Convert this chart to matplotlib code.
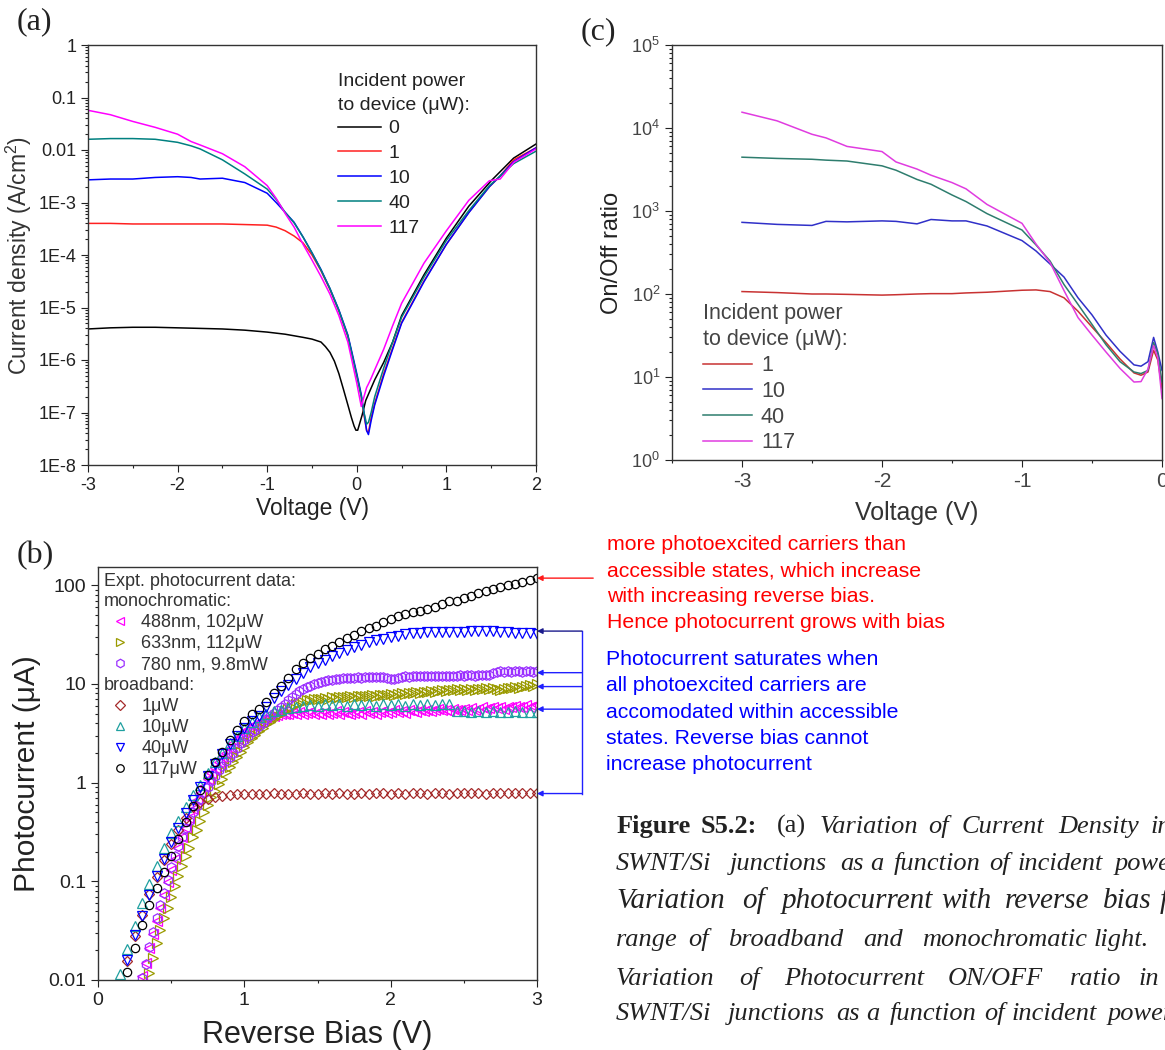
import numpy as np
import matplotlib
matplotlib.use("Agg")
import matplotlib.pyplot as plt
from matplotlib.lines import Line2D
from matplotlib.ticker import FixedLocator, LogLocator, MultipleLocator, NullFormatter

plt.rcParams["font.family"] = ["Liberation Sans", "DejaVu Sans"]
plt.rcParams["mathtext.fontset"] = "custom"
plt.rcParams["mathtext.rm"] = "Liberation Sans"
plt.rcParams["mathtext.it"] = "Liberation Sans:italic"
plt.rcParams["axes.unicode_minus"] = False

# ---------------- panel (a): current density vs voltage ----------------
A_V0 = [-3.0, -2.75, -2.5, -2.25, -2.0, -1.75, -1.5, -1.25, -1.0, -0.8, -0.6, -0.5,
        -0.4, -0.35, -0.3, -0.25, -0.2, -0.15, -0.1, -0.06, -0.03, -0.01, 0.01, 0.03,
        0.06, 0.1, 0.2, 0.3, 0.4, 0.5, 0.75, 1.0, 1.25, 1.5, 1.75, 2.0]
A_J0 = [3.9e-6, 4.1e-6, 4.2e-6, 4.2e-6, 4.1e-6, 4.0e-6, 3.9e-6, 3.7e-6, 3.4e-6, 3.1e-6,
        2.7e-6, 2.5e-6, 2.2e-6, 1.8e-6, 1.4e-6, 9.5e-7, 5.5e-7, 2.8e-7, 1.4e-7, 8e-8,
        5.5e-8, 4.6e-8, 4.6e-8, 6e-8, 9e-8, 1.7e-7, 4.2e-7, 9e-7, 2.2e-6, 7e-6, 4.2e-5,
        2.1e-4, 8.5e-4, 2.6e-3, 7.0e-3, 1.3e-2]

A_V = [-3.0, -2.75, -2.5, -2.25, -2.0, -1.85, -1.75, -1.5, -1.25, -1.0, -0.9, -0.8,
       -0.7, -0.6, -0.5, -0.4, -0.3, -0.2, -0.1, -0.05, 0.0, 0.05, 0.08, 0.11, 0.13,
       0.16, 0.2, 0.3, 0.4, 0.5, 0.75, 1.0, 1.25, 1.48, 1.6, 1.75, 2.0]
A_J1 = [4.0e-4, 4.0e-4, 3.9e-4, 3.9e-4, 3.9e-4, 3.9e-4, 3.9e-4, 3.9e-4, 3.8e-4, 3.7e-4,
        3.4e-4, 2.9e-4, 2.3e-4, 1.7e-4, 1.0e-4, 5e-5, 2.2e-5, 8.5e-6, 2.8e-6, 1.2e-6,
        5e-7, 2e-7, 9e-8, 4.5e-8, 4.2e-8, 8e-8, 1.5e-7, 5.5e-7, 1.7e-6, 5.2e-6, 3.2e-5,
        1.6e-4, 6.5e-4, 2.0e-3, 3.2e-3, 6.5e-3, 1.1e-2]
A_J10 = [2.7e-3, 2.8e-3, 2.8e-3, 3.0e-3, 3.1e-3, 3.0e-3, 2.8e-3, 2.9e-3, 2.4e-3, 1.5e-3,
         1.0e-3, 6.5e-4, 4.2e-4, 2.2e-4, 1.1e-4, 5.3e-5, 2.3e-5, 9e-6, 3e-6, 1.3e-6,
         5.5e-7, 2.2e-7, 1e-7, 4.5e-8, 3.8e-8, 7e-8, 1.4e-7, 5e-7, 1.6e-6, 5e-6, 3.1e-5,
         1.6e-4, 6.4e-4, 2.0e-3, 3.2e-3, 6.0e-3, 1.1e-2]
A_J40 = [1.6e-2, 1.65e-2, 1.65e-2, 1.6e-2, 1.4e-2, 1.2e-2, 1.05e-2, 6.5e-3, 3.5e-3, 1.8e-3,
         1.15e-3, 6.5e-4, 4.1e-4, 2.2e-4, 1.1e-4, 5.2e-5, 2.3e-5, 8.8e-6, 2.9e-6, 1.2e-6,
         5e-7, 2e-7, 1e-7, 6e-8, 6.5e-8, 1e-7, 2e-7, 7e-7, 2.2e-6, 6.5e-6, 3.8e-5,
         1.9e-4, 7e-4, 2.1e-3, 3.2e-3, 5.5e-3, 9.5e-3]
A_J117 = [5.7e-2, 4.7e-2, 3.5e-2, 2.7e-2, 2.0e-2, 1.45e-2, 1.25e-2, 8.5e-3, 4.8e-3, 2.1e-3,
          1.2e-3, 6.2e-4, 3.4e-4, 1.6e-4, 8e-5, 3.9e-5, 1.8e-5, 7e-6, 2.2e-6, 9e-7,
          3.6e-7, 1.3e-7, 2e-7, 3e-7, 3.5e-7, 4.5e-7, 6.5e-7, 1.6e-6, 4.5e-6, 1.2e-5, 7e-5,
          2.9e-4, 1.1e-3, 2.6e-3, 2.8e-3, 5.8e-3, 1.05e-2]

A_YTICKS = [1e-8, 1e-7, 1e-6, 1e-5, 1e-4, 1e-3, 1e-2, 1e-1, 1]
A_YLABELS = ["1E-8", "1E-7", "1E-6", "1E-5", "1E-4", "1E-3", "0.01", "0.1", "1"]

# ---------------- panel (c): on/off ratio ----------------
C_V = [-3.0, -2.75, -2.5, -2.4, -2.25, -2.0, -1.9, -1.75, -1.65, -1.5, -1.4, -1.25,
       -1.0, -0.9, -0.8, -0.7, -0.6, -0.5, -0.4, -0.3, -0.2, -0.15, -0.1, -0.06, -0.03, 0.0]
C_R1 = [107, 104, 100, 100, 99, 97, 98, 100, 101, 101, 103, 105, 111, 112, 107, 90,
        62, 40, 26, 16.5, 11.2, 10.5, 11.5, 21, 16, 7.2]
C_R10 = [730, 690, 670, 750, 740, 760, 750, 700, 790, 760, 760, 660, 440, 330, 230, 160,
         90, 56, 32, 20.4, 14, 13.5, 15.3, 30, 20, 12]
C_R40 = [4450, 4300, 4200, 4100, 4000, 3500, 3100, 2400, 2100, 1560, 1300, 930, 590, 390,
         250, 130, 75, 43, 24.5, 15.3, 11.5, 11, 12, 26, 19, 8.7]
C_R117 = [15500, 12200, 8400, 7600, 6000, 5200, 3900, 3200, 2700, 2200, 1850, 1200, 710,
          400, 240, 110, 52, 32, 20, 12.7, 8.7, 8.8, 12.5, 24, 17, 5.5]

# ---------------- panel (b): photocurrent vs reverse bias ----------------
# broadband series, 0.05 V steps
B_117_START = 0.20
B_117 = [0.012, 0.021, 0.036, 0.057, 0.085, 0.125, 0.18, 0.27, 0.40, 0.58, 0.85, 1.2,
         1.6, 2.05, 2.7, 3.4, 4.2, 4.9, 5.6, 6.5, 8.0, 9.6, 11.5, 14.0, 16.4, 18.5, 20.2,
         22.4, 24.2, 26.7, 28.9, 31.3, 34.3, 37.0, 38.5, 42.0, 45.0, 48.6, 51, 53, 55, 57,
         60, 64, 69, 70, 74, 78, 83, 87, 91, 96, 100, 104, 108, 113, 118]
B_40_START = 0.20
B_40 = [0.016, 0.0285, 0.045, 0.073, 0.112, 0.17, 0.25, 0.35, 0.49, 0.67, 0.90, 1.17,
        1.55, 1.95, 2.45, 3.0, 3.6, 4.2, 4.7, 5.8, 7.2, 8.5, 9.8, 11.2, 12.8, 14.8, 16.3,
        17.6, 19.0, 20.5, 22.0, 23.5, 24.8, 26.3, 27.6, 28.7, 29.8, 30.8, 31.7, 32.6, 33.0,
        33.3, 33.5, 33.2, 33.6, 33.8, 33.5, 34.0, 34.6, 34.3, 34.0, 33.6, 33.2, 33.0, 32.8,
        32.5, 32.3]
B_10_START = 0.15
B_10 = [0.0115, 0.0205, 0.035, 0.060, 0.094, 0.144, 0.215, 0.31, 0.41, 0.57, 0.75, 0.95,
        1.25, 1.6, 2.0, 2.5, 3.0, 3.6, 4.1, 4.6, 5.0, 5.3, 5.5, 5.7, 5.9, 6.0, 6.1, 6.0,
        6.2, 6.1, 6.2, 6.0, 6.2, 6.1, 6.2, 6.0, 6.2, 6.1, 6.2, 6.0, 6.2, 6.1, 6.2, 6.1,
        6.2, 6.2, 5.3, 5.3, 5.2, 5.3, 5.2, 5.3, 5.2, 5.2, 5.3, 5.2, 5.2, 5.2]
B_1_START = 0.20
B_1 = [0.0155, 0.028, 0.046, 0.074, 0.11, 0.165, 0.24, 0.33, 0.44, 0.56, 0.64, 0.69,
       0.71, 0.73, 0.75, 0.76, 0.76, 0.77, 0.76, 0.77, 0.78, 0.77, 0.76, 0.77, 0.78, 0.77,
       0.76, 0.78, 0.77, 0.78, 0.77, 0.76, 0.78, 0.77, 0.78, 0.79, 0.77, 0.78, 0.77, 0.79,
       0.78, 0.77, 0.79, 0.78, 0.77, 0.79, 0.78, 0.79, 0.78, 0.77, 0.79, 0.78, 0.79, 0.78,
       0.79, 0.78, 0.78]

# monochromatic series, 0.025 V steps
B_780_START = 0.30
B_780 = [0.0105, 0.0145, 0.0215, 0.031, 0.042, 0.057, 0.077, 0.103, 0.14, 0.18, 0.226,
         0.28, 0.35, 0.41, 0.50, 0.58, 0.68, 0.79, 0.90, 1.04, 1.17, 1.33, 1.46, 1.64, 1.83,
         2.0, 2.25, 2.5, 2.72, 2.97, 3.24, 3.45, 3.72, 4.05, 4.38, 4.72, 5.05, 5.4, 5.8,
         6.3, 6.9, 7.4, 7.9, 8.4, 8.8, 9.2, 9.5, 9.9, 10.2, 10.5, 10.7, 10.9, 11.0, 11.2,
         11.3, 11.4, 11.5, 11.6, 11.6, 11.7, 11.6, 11.7, 11.8, 11.7, 11.8, 11.8, 11.7, 11.5,
         11.3, 11.3, 11.6, 11.8, 11.9, 11.8, 11.9, 12.0, 11.9, 12.0, 12.0, 11.9, 12.0, 12.1,
         12.0, 12.1, 12.1, 12.0, 12.1, 12.2, 12.1, 12.2, 12.2, 12.1, 12.3, 12.4, 12.3, 12.2,
         12.9, 13.3, 13.4, 13.3, 13.4, 13.3, 13.5, 13.4, 13.3, 13.4, 13.5, 13.3, 13.4]
B_633_START = 0.35
B_633 = [0.0118, 0.0168, 0.0235, 0.032, 0.042, 0.054, 0.070, 0.090, 0.113, 0.143, 0.18,
         0.22, 0.28, 0.33, 0.41, 0.50, 0.59, 0.71, 0.82, 0.96, 1.10, 1.28, 1.45, 1.63, 1.83,
         2.05, 2.3, 2.55, 2.8, 3.05, 3.3, 3.6, 3.9, 4.15, 4.4, 4.7, 5.0, 5.3, 5.6, 5.9, 6.2,
         6.4, 6.6, 6.8, 6.9, 7.0, 7.1, 7.0, 7.2, 7.1, 7.3, 7.2, 7.3, 7.4, 7.3, 7.5, 7.4,
         7.6, 7.5, 7.6, 7.5, 7.7, 7.6, 7.7, 7.8, 7.7, 7.9, 7.8, 7.9, 8.0, 7.9, 8.1, 8.0,
         8.2, 8.1, 8.3, 8.2, 8.4, 8.3, 8.5, 8.6, 8.5, 8.7, 8.6, 8.8, 8.7, 8.8, 8.6, 8.8,
         8.7, 8.9, 8.8, 9.0, 8.8, 9.0, 8.9, 8.7, 8.9, 9.1, 9.0, 9.2, 9.1, 9.3, 9.5, 9.7,
         9.6, 9.9]
B_488_START = 0.30
B_488 = [0.011, 0.015, 0.021, 0.029, 0.040, 0.054, 0.073, 0.098, 0.13, 0.17, 0.22, 0.28,
         0.35, 0.44, 0.54, 0.66, 0.79, 0.93, 1.08, 1.25, 1.42, 1.6, 1.8, 2.0, 2.25, 2.5,
         2.75, 3.0, 3.25, 3.5, 3.75, 3.95, 4.15, 4.35, 4.5, 4.65, 4.75, 4.85, 4.9, 5.0, 4.9,
         5.1, 5.0, 5.2, 4.9, 5.1, 5.2, 5.0, 5.1, 4.9, 5.2, 5.0, 5.1, 5.3, 5.0, 5.2, 5.1,
         4.9, 5.1, 5.2, 5.0, 5.3, 5.1, 5.2, 5.0, 5.2, 5.3, 5.1, 5.2, 5.4, 5.2, 5.3, 5.1,
         5.4, 5.3, 5.2, 5.4, 5.3, 5.5, 5.3, 5.4, 5.6, 5.4, 5.5, 5.3, 5.6, 5.5, 5.4, 5.6,
         5.5, 5.7, 5.5, 5.6, 5.8, 5.6, 5.7, 5.9, 5.7, 5.8, 5.6, 5.9, 5.8, 6.0, 5.8, 5.9,
         6.1, 5.9, 6.0, 6.1]

# levels the side arrows point at, and the grown-with-bias level
SAT_LEVELS = [34.3, 13.0, 9.4, 5.55, 0.775]
GROW_LEVEL = 118

B_YTICKS = [0.01, 0.1, 1, 10, 100]
B_YLABELS = ["0.01", "0.1", "1", "10", "100"]

W, H = 1165, 1050


def box(left, top, right, bottom):
    return [left / W, 1 - bottom / H, (right - left) / W, (bottom - top) / H]


def style_log_axis(ax, labelsize, color="#222222"):
    ax.yaxis.set_minor_locator(LogLocator(base=10, subs=np.arange(2, 10), numticks=100))
    ax.yaxis.set_minor_formatter(NullFormatter())
    ax.tick_params(which="both", direction="out", width=0.8, labelsize=labelsize,
                   colors="#222222", labelcolor=color)
    ax.tick_params(which="major", length=5)
    ax.tick_params(which="minor", length=2.5)
    for s in ax.spines.values():
        s.set_linewidth(1.0)
        s.set_color("#333333")


def power_legend(ax, anchor, loc, size, hlen, spacing, title_ls, color):
    leg = ax.legend(title="Incident power\nto device (\u03bcW):", loc=loc,
                    bbox_to_anchor=anchor, frameon=False, fontsize=size,
                    title_fontsize=size, handlelength=hlen, handletextpad=0.4,
                    labelspacing=spacing, borderpad=0, borderaxespad=0,
                    alignment="left", labelcolor=color)
    leg.get_title().set_color(color)
    leg.get_title().set_linespacing(title_ls)
    leg._legend_box.sep = 4
    return leg


fig = plt.figure(figsize=(W / 100, H / 100), dpi=100)

# ======================= (a) =======================
ax_a = fig.add_axes(box(88, 45, 536, 465))
ax_a.set_yscale("log")
ax_a.plot(A_V0, A_J0, color="black", lw=1.1, label="0")
ax_a.plot(A_V, A_J1, color="#ff2020", lw=1.1, label="1")
ax_a.plot(A_V, A_J10, color="#0000ff", lw=1.1, label="10")
ax_a.plot(A_V, A_J40, color="#008080", lw=1.1, label="40")
ax_a.plot(A_V, A_J117, color="#ff00ff", lw=1.1, label="117")
ax_a.set_xlim(-3, 2)
ax_a.set_ylim(1e-8, 1)
ax_a.yaxis.set_major_locator(FixedLocator(A_YTICKS))
ax_a.set_yticklabels(A_YLABELS)
ax_a.xaxis.set_major_locator(MultipleLocator(1))
ax_a.xaxis.set_minor_locator(MultipleLocator(0.5))
style_log_axis(ax_a, 13)
ax_a.set_xlabel("Voltage (V)", fontsize=16.5, color="#222222", labelpad=2)
ax_a.set_ylabel("Current density (A/cm$^2$)", fontsize=16.5, color="#333333", labelpad=3)
power_legend(ax_a, (0.558, 0.933), "upper left", 14, 2.2, 0.37, 1.55, "#222222")

# ======================= (c) =======================
ax_c = fig.add_axes(box(672, 45, 1162, 460))
ax_c.set_yscale("log")
ax_c.plot(C_V, C_R1, color="#c83232", lw=1.1, label="1")
ax_c.plot(C_V, C_R10, color="#3030c8", lw=1.1, label="10")
ax_c.plot(C_V, C_R40, color="#2e7d6e", lw=1.1, label="40")
ax_c.plot(C_V, C_R117, color="#e03ce0", lw=1.1, label="117")
ax_c.set_xlim(-3.5, 0)
ax_c.set_ylim(1, 1e5)
ax_c.yaxis.set_major_locator(FixedLocator([1, 10, 100, 1e3, 1e4, 1e5]))
ax_c.set_yticklabels(["$10^{0}$", "$10^{1}$", "$10^{2}$", "$10^{3}$", "$10^{4}$", "$10^{5}$"])
ax_c.xaxis.set_major_locator(MultipleLocator(1))
ax_c.xaxis.set_minor_locator(MultipleLocator(0.5))
style_log_axis(ax_c, 13, color="#444444")
ax_c.tick_params(axis="x", labelsize=15)
ax_c.set_xlabel("Voltage (V)", fontsize=18, color="#333333", labelpad=7)
ax_c.set_ylabel("On/Off ratio", fontsize=17, color="#222222", labelpad=6)
power_legend(ax_c, (0.063, 0.016), "lower left", 15.5, 2.3, 0.22, 1.3, "#444444")

# ======================= (b) =======================
ax_b = fig.add_axes(box(98, 567, 537, 980))
ax_b.set_yscale("log")


def bias(start, step, values):
    return start + step * np.arange(len(values))


series_b = [
    (bias(B_488_START, 0.025, B_488), B_488, "<", "#ff00ff", 6.5, "488nm, 102\u03bcW"),
    (bias(B_633_START, 0.025, B_633), B_633, ">", "#9a9a00", 6.5, "633nm, 112\u03bcW"),
    (bias(B_780_START, 0.025, B_780), B_780, "h", "#9b30ff", 6.8, "780 nm, 9.8mW"),
    (bias(B_1_START, 0.05, B_1), B_1, "D", "#a52a2a", 5.2, "1\u03bcW"),
    (bias(B_10_START, 0.05, B_10), B_10, "^", "#1fa0a0", 6.5, "10\u03bcW"),
    (bias(B_40_START, 0.05, B_40), B_40, "v", "#0000ff", 6.5, "40\u03bcW"),
    (bias(B_117_START, 0.05, B_117), B_117, "o", "#000000", 6.0, "117\u03bcW"),
]
handles = []
for xs, ys, mk, col, ms, lab in series_b:
    ax_b.plot(xs, ys, ls="none", marker=mk, mfc="none", mec=col, ms=ms, mew=0.9)
    handles.append(Line2D([], [], ls="none", marker=mk, mfc="none", mec=col,
                          ms=ms * 0.9, mew=0.9, label=lab))

ax_b.set_xlim(0, 3)
ax_b.set_ylim(0.01, 153)
ax_b.yaxis.set_major_locator(FixedLocator(B_YTICKS))
ax_b.set_yticklabels(B_YLABELS)
ax_b.xaxis.set_major_locator(MultipleLocator(1))
ax_b.xaxis.set_minor_locator(MultipleLocator(0.5))
style_log_axis(ax_b, 14)
ax_b.set_xlabel("Reverse Bias (V)", fontsize=22, color="#222222", labelpad=8)
ax_b.set_ylabel("Photocurrent (\u03bcA)", fontsize=21.5, color="#222222", labelpad=5)

leg_kw = dict(loc="upper left", frameon=False, fontsize=13, handlelength=1.25,
              handletextpad=0.55, labelspacing=0.22, borderpad=0, borderaxespad=0,
              labelcolor="#333333")
leg_mono = ax_b.legend(handles=handles[:3], bbox_to_anchor=(0.025, 0.886), **leg_kw)
ax_b.add_artist(leg_mono)
ax_b.legend(handles=handles[3:], bbox_to_anchor=(0.025, 0.683), **leg_kw)
for txt, yf in [("Expt. photocurrent data:", 0.966), ("monochromatic:", 0.917),
                ("broadband:", 0.714)]:
    ax_b.text(0.014, yf, txt, transform=ax_b.transAxes, fontsize=13, color="#333333",
              va="center", ha="left")

# side arrows
side = ax_b.get_yaxis_transform()
arrow_kw = dict(arrowstyle="-|>", lw=1.0, mutation_scale=8, shrinkA=0, shrinkB=0)
ax_b.annotate("", xy=(1.0, GROW_LEVEL), xycoords=side, xytext=(1.128, GROW_LEVEL),
              textcoords=side, annotation_clip=False,
              arrowprops=dict(color="#ff1a1a", **arrow_kw))
for i, lev in enumerate(SAT_LEVELS):
    col = "#1a1a8c" if i == 0 else "#2020ff"
    ax_b.annotate("", xy=(1.0, lev), xycoords=side, xytext=(1.1025, lev),
                  textcoords=side, annotation_clip=False,
                  arrowprops=dict(color=col, **arrow_kw))
ax_b.plot([1.1025, 1.1025], [min(SAT_LEVELS), max(SAT_LEVELS)], transform=side,
          color="#2020ff", lw=1.0, clip_on=False)

# annotation texts
fig.text(607 / W, 1 - 535 / H,
         "more photoexcited carriers than\naccessible states, which increase\n"
         "with increasing reverse bias.\nHence photocurrent grows with bias",
         color="#ff0000", fontsize=15.3, va="top", ha="left", linespacing=1.47)
fig.text(606 / W, 1 - 650 / H,
         "Photocurrent saturates when\nall photoexcited carriers are\n"
         "accomodated within accessible\nstates. Reverse bias cannot\n"
         "increase photocurrent",
         color="#0000ff", fontsize=15.3, va="top", ha="left", linespacing=1.49)

# panel letters
for lab, x, y in [("(a)", 17, 22), ("(b)", 17, 556), ("(c)", 581, 32)]:
    fig.text(x / W, 1 - y / H, lab, family="Liberation Serif", fontsize=23,
             color="#222222", va="center", ha="left")

# caption (word by word, justified like the source page)
CAPTION = [
    (833, 19, [("Figure", 617, "b"), ("S5.2:", 701, "b"), ("(a)", 777, "n"),
               ("Variation", 820, "i"), ("of", 928, "i"), ("Current", 962, "i"),
               ("Density", 1058, "i"), ("in", 1151, "i")]),
    (870, 19, [("SWNT/Si", 616, "i"), ("junctions", 730, "i"), ("as", 840, "i"),
               ("a", 870, "i"), ("function", 894, "i"), ("of", 989, "i"),
               ("incident", 1018, "i"), ("power.", 1115, "i")]),
    (908, 21, [("Variation", 616, "i"), ("of", 742, "i"), ("photocurrent", 782, "i"),
               ("with", 941, "i"), ("reverse", 1005, "i"), ("bias", 1103, "i"),
               ("for", 1160, "i")]),
    (946, 19, [("range", 616, "i"), ("of", 688, "i"), ("broadband", 728, "i"),
               ("and", 863, "i"), ("monochromatic", 922, "i"), ("light.", 1094, "i")]),
    (985, 19, [("Variation", 616, "i"), ("of", 739, "i"), ("Photocurrent", 784, "i"),
               ("ON/OFF", 948, "i"), ("ratio", 1070, "i"), ("in", 1139, "i")]),
    (1020, 19, [("SWNT/Si", 616, "i"), ("junctions", 728, "i"), ("as", 836, "i"),
                ("a", 866, "i"), ("function", 890, "i"), ("of", 984, "i"),
                ("incident", 1012, "i"), ("power.", 1108, "i")]),
]
for base, size, words in CAPTION:
    for word, x, st in words:
        fig.text(x / W, 1 - base / H, word, family="Liberation Serif", fontsize=size,
                 color="#222222", va="baseline", ha="left",
                 fontweight="bold" if st == "b" else "normal",
                 fontstyle="italic" if st == "i" else "normal")

fig.savefig("out.png", dpi=100)
